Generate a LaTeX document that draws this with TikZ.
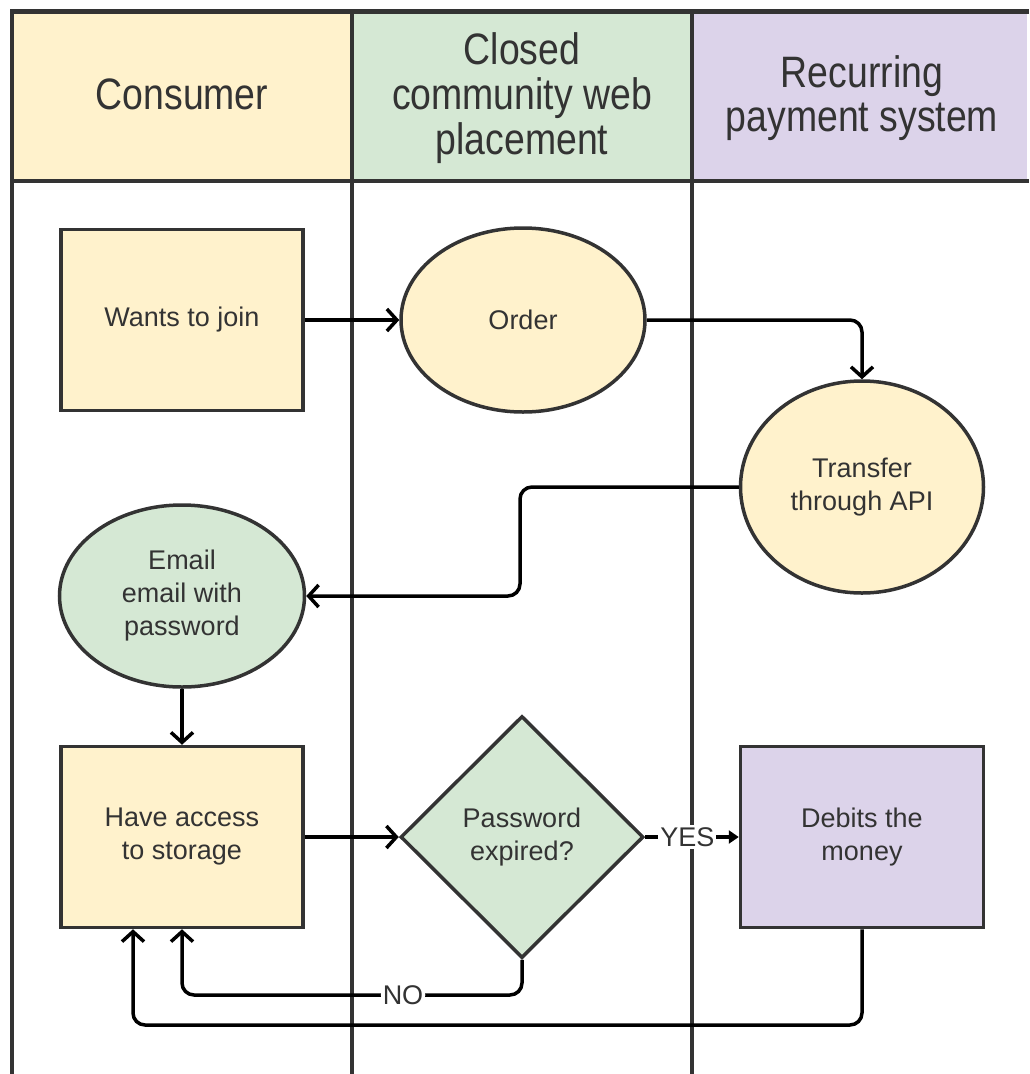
\documentclass[tikz,border=0pt]{standalone}
\usepackage{fontspec}
\setmainfont{Liberation Sans}
\usetikzlibrary{shapes.geometric,arrows.meta}
\definecolor{cyel}{HTML}{FFF2CC}
\definecolor{cgrn}{HTML}{D5E8D4}
\definecolor{cpur}{HTML}{DCD3EA}
\definecolor{cline}{HTML}{333333}
\definecolor{ctext}{HTML}{333333}
\newcommand{\hdrtext}[1]{\scalebox{0.85}[1]{\begin{tabular}{@{}c@{}}#1\end{tabular}}}
\begin{document}
\begin{tikzpicture}[x=1pt,y=-1pt,
  lane/.style={draw=cline,line width=3.5pt},
  hdr/.style={align=center,text=ctext,inner sep=0pt,font=\fontsize{44}{44}\selectfont},
  box/.style={draw=cline,line width=3.5pt,text=ctext,align=center,
    font=\fontsize{27}{33}\selectfont,inner sep=0pt},
  rbox/.style={box,rectangle,minimum width=242pt,minimum height=181pt},
  ell/.style={box,ellipse},
  conn/.style={draw=black,line width=3.5pt,rounded corners=12pt,
    -{Straight Barb[length=10pt,width=22pt,line width=3.5pt]}},
  lbl/.style={fill=white,text=ctext,font=\fontsize{27}{30}\selectfont,inner sep=2pt}
]
\useasboundingbox (0,0) rectangle (1029,1074);
% header fills
\fill[cyel] (12,11) rectangle (352,181);
\fill[cgrn] (352,11) rectangle (692,181);
\fill[cpur] (692,11) rectangle (1027,181);
% frame and lanes
\draw[lane,line width=5pt] (10,11) -- (1029,11);
\draw[lane,line width=4pt] (12,9) -- (12,1074);
\draw[lane,line width=4pt] (12,181) -- (1029,181);
\draw[lane] (352,11) -- (352,1074);
\draw[lane] (692,11) -- (692,1074);
% header texts
\node[hdr] (h1) at (182,101) {\hdrtext{Consumer}};
\node[hdr] (h2) at (522,100) {\hdrtext{Closed\\community web\\placement}};
\node[hdr] (h3) at (862,100) {\hdrtext{Recurring\\payment system}};
% nodes
\node[rbox,fill=cyel] (want) at (182,320) {Wants to join};
\node[ell,fill=cyel,minimum width=244pt,minimum height=184pt] (order) at (523,320) {Order};
\node[ell,fill=cyel,minimum width=243pt,minimum height=212pt] (api) at (862,487) {Transfer\\through API};
\node[ell,fill=cgrn,minimum width=245pt,minimum height=182pt] (email) at (182,596) {Email\\email with\\password};
\node[rbox,fill=cyel] (have) at (182,837) {Have access\\to storage};
\node[box,diamond,fill=cgrn,minimum width=243pt,minimum height=242pt] (dia) at (522,837) {Password\\expired?};
\node[rbox,fill=cpur,minimum width=243pt] (debit) at (862,837) {Debits the\\money};
% helper coordinates
\coordinate (b1) at (520,487);
\coordinate (b2) at (520,596);
\coordinate (nolev) at (522,995);
\coordinate (botlev) at (133,1025);
% connectors
\draw[conn] (want) -- (order);
\draw[conn] (order.east) -| (api.north);
\draw[conn] (api.west) -- (b1) -- (b2) -- (email.east);
\draw[conn] (email.south) -- (have.north);
\draw[conn] (have.east) -- (dia.west);
\draw[draw=black,line width=3.5pt,-{Triangle[length=10pt,width=13pt]}] (dia.east) -- node[lbl,pos=0.45] (yes) {YES} (debit.west);
\draw[conn] (dia.south) -- (dia.south |- nolev) -- node[lbl,pos=0.35] (no) {NO} (have.south |- nolev) -- (have.south);
\draw[conn] (debit.south) -- (debit.south |- botlev) -- (botlev) -- (botlev |- have.south);
\end{tikzpicture}
\end{document}
